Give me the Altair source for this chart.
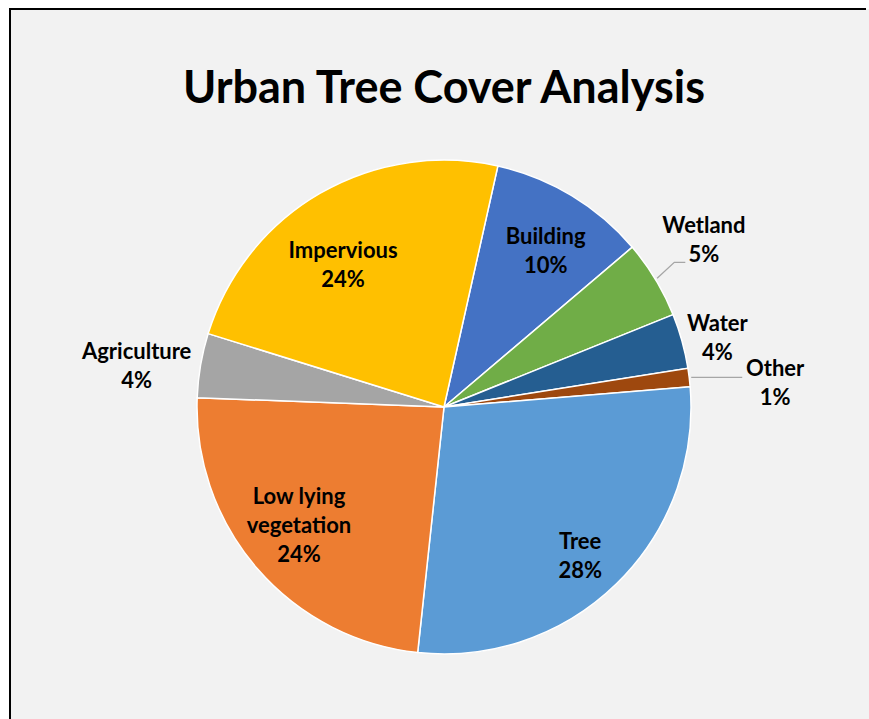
import math
import altair as alt
import pandas as pd

# ---- data ----
categories = ["Building", "Wetland", "Water", "Other", "Tree",
              "Low lying vegetation", "Agriculture", "Impervious"]
shares = [10.3, 5.1, 3.6, 1.2, 28.0, 23.9, 4.2, 23.7]
colors = ["#4472C4", "#70AD47", "#255E91", "#9E480E", "#5B9BD5",
          "#ED7D31", "#A5A5A5", "#FFC000"]

# ---- layout ----
W, H = 900, 760          # framed plot area (right/bottom edges fall outside the page)
PAD_R, PAD_B = -41, -50  # pull the page edge inside the frame
CX, CY = 434, 398        # pie centre inside plot area
R = 247                  # pie radius
START_DEG = 12.6         # rotation of first slice
LH = 29                  # label line height
label_r = [186, 309, 282, 332, 202, 187, 310, 174]
label_nudge = [2.0, -1.6, 1.3, 2.7, 1.9, 1.7, -2.2, -5.4]
# leader: (elbow radius, elbow angle adjust, horizontal length)
leaders = {"Wetland": (272, -1.0, 11), "Other": (249, 0.0, 51)}
# frame: draw only the top and left edges
FRAME_DASH = [856, 1616, 900, 0]

total = sum(shares)
rows, leader_rows = [], []
acc = START_DEG
for i, (c, v) in enumerate(zip(categories, shares)):
    span = v / total * 360.0
    mid = acc + span / 2.0
    acc += span
    a = math.radians(mid + label_nudge[i])
    text = c.replace("Low lying ", "Low lying\n") + "\n" + f"{round(v)}%"
    nlines = text.count("\n") + 1
    rows.append(dict(
        category=c, share=v, order=i, label=text,
        lx=CX + label_r[i] * math.sin(a),
        ly=CY - label_r[i] * math.cos(a) - (nlines - 1) * LH / 2.0 + 0.5,
    ))
    if c in leaders:
        re_, adj, hl = leaders[c]
        m = math.radians(mid)
        m1 = math.radians(mid + adj)
        p0 = (CX + (R + 2) * math.sin(m), CY - (R + 2) * math.cos(m))
        p1 = (CX + re_ * math.sin(m1), CY - re_ * math.cos(m1))
        p2 = (p1[0] + hl, p1[1])
        for k, p in enumerate([p0, p1, p2]):
            leader_rows.append(dict(category=c, pt=k, lx=p[0], ly=p[1]))

df = pd.DataFrame(rows)
ldf = pd.DataFrame(leader_rows)

start_rad = math.radians(START_DEG)

arcs = alt.Chart(df).mark_arc(outerRadius=R, stroke="white", strokeWidth=1.5).encode(
    theta=alt.Theta("share:Q", stack=True,
                    scale=alt.Scale(range=[start_rad, start_rad + 2 * math.pi])),
    order=alt.Order("order:Q"),
    color=alt.Color("category:N", scale=alt.Scale(domain=categories, range=colors),
                    legend=None),
    x=alt.value(CX),
    y=alt.value(CY),
)

lead = alt.Chart(ldf).mark_line(color="#A6A6A6", strokeWidth=1.3).encode(
    x=alt.X("lx:Q", scale=None),
    y=alt.Y("ly:Q", scale=None),
    detail="category:N",
    order="pt:Q",
)

labels = alt.Chart(df).mark_text(
    font="Lato", fontSize=22, fontWeight="bold", lineBreak="\n", lineHeight=LH,
    color="black", align="center", baseline="middle",
).encode(
    x=alt.X("lx:Q", scale=None),
    y=alt.Y("ly:Q", scale=None),
    text="label:N",
)

chart = alt.layer(arcs, lead, labels).properties(
    width=W, height=H,
    padding={"left": 10, "top": 9, "right": PAD_R, "bottom": PAD_B},
    autosize=alt.AutoSizeParams(type="none"),
    background="white",
    title=alt.TitleParams("Urban Tree Cover Analysis", font="Lato", fontSize=45,
                          fontWeight="bold", color="black", anchor="middle",
                          offset=-103, dx=CX - W / 2),
).configure_view(fill="#F2F2F2", stroke="black", strokeWidth=2, strokeDash=FRAME_DASH)

chart.save("out.html", embed_options={"renderer": "svg", "actions": False})
